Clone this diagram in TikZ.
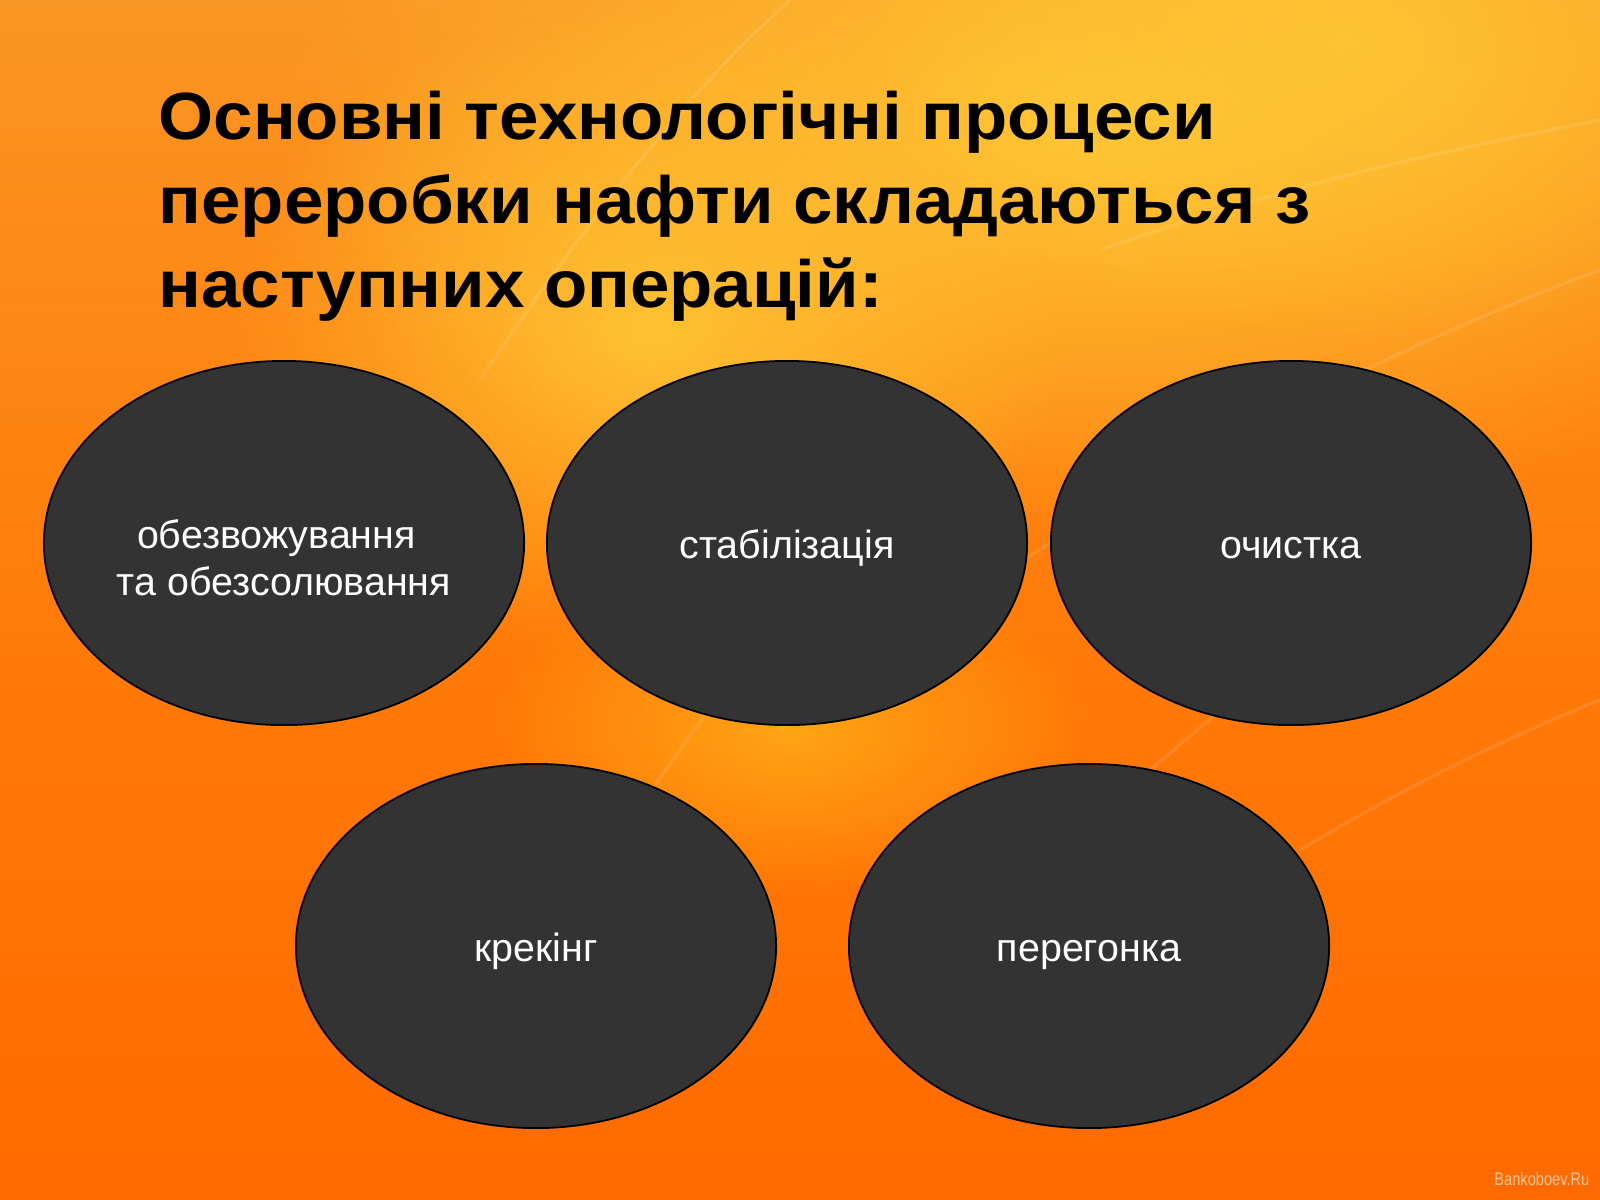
\documentclass[tikz,border=0pt]{standalone}
\usepackage{fontspec}
\setmainfont{Liberation Sans}
\usetikzlibrary{shapes.geometric,fadings}
\definecolor{bgtop}{RGB}{250,150,35}
\definecolor{bgmid}{RGB}{255,124,10}
\definecolor{bgbot}{RGB}{255,106,0}
\definecolor{bgyel}{RGB}{255,198,52}
\definecolor{bgglow}{RGB}{255,165,20}
\definecolor{ovalfill}{RGB}{51,51,51}
\definecolor{wm}{RGB}{246,200,160}
\tikzfading[name=softglow, inner color=transparent!0, outer color=transparent!100]
\tikzset{
  oval/.style={ellipse, draw=black, line width=0.5pt, fill=ovalfill,
    minimum width=4.8cm, minimum height=3.64cm, inner sep=0pt,
    text=white, font=\fontsize{11.2pt}{13.4pt}\selectfont, align=center},
  onetext/.style={text height=1.1em, text depth=0.2em},
  titleline/.style={anchor=base west, inner sep=0pt, font=\fontsize{19pt}{24pt}\selectfont\bfseries},
  streak/.style={white, line width=1pt, opacity=0.10},
  blob/.style={path fading=softglow}
}
\newcommand{\wide}[1]{\scalebox{1.06}[1]{#1}}
\begin{document}
\begin{tikzpicture}[x=0.01cm,y=-0.01cm]
\useasboundingbox (0,0) rectangle (1600,1200);
% background
\shade[top color=bgtop, bottom color=bgbot, middle color=bgmid] (0,0) rectangle (1600,1200);
\fill[bgyel, blob] (1100,120) ellipse (820 and 420);
\fill[bgyel, blob, opacity=0.9] (650,330) ellipse (420 and 330);
\fill[bgyel, blob, opacity=0.8] (1350,40) ellipse (500 and 300);
\fill[bgglow, blob] (790,730) ellipse (300 and 170);
\draw[streak] (480,380) .. controls (600,200) and (700,80) .. (790,0);
\draw[streak] (780,730) .. controls (1000,560) and (1300,380) .. (1600,270);
\draw[streak] (1300,850) .. controls (1400,790) and (1500,740) .. (1600,700);
\draw[streak] (655,785) -- (705,715);
\draw[streak] (1150,770) -- (1215,715);
\draw[streak] (1100,250) .. controls (1300,180) and (1450,150) .. (1600,120);
% title
\node[titleline] (t1) at (158,139) {\wide{Основні технологічні процеси}};
\node[titleline] (t2) at (158,223) {\wide{переробки нафти складаються з}};
\node[titleline] (t3) at (158,307) {\wide{наступних операцій:}};
% ovals
\node[oval] (o1) at (284,543) {\raisebox{-5.6pt}[\height][\depth]{\begin{tabular}{@{}c@{}}обезвожування\kern4.3pt\\ та обезсолювання\end{tabular}}};
\node[oval, onetext] (o2) at (787,543) {стабілізація};
\node[oval, onetext] (o3) at (1291,543) {очистка};
\node[oval, onetext] (o4) at (536,946) {крекінг};
\node[oval, onetext] (o5) at (1089,946) {перегонка};
% watermark
\node[anchor=base east, inner sep=0pt, text=wm, font=\fontsize{5.2pt}{6pt}\selectfont] (wmk) at (1590,1185) {\scalebox{0.8}[1]{Bankoboev.Ru}};
\end{tikzpicture}
\end{document}
